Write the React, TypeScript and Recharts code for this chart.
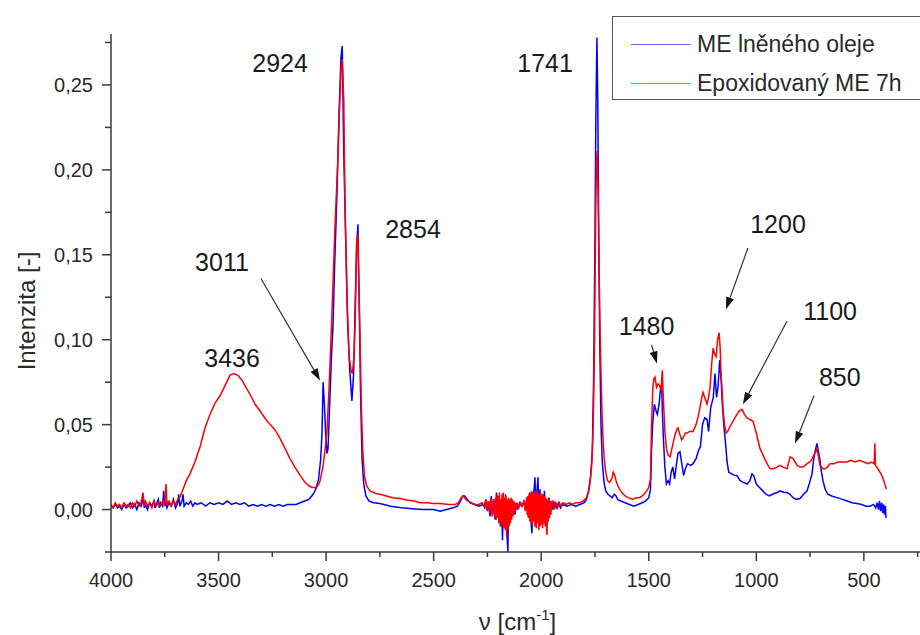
import React from 'react';
import { LineChart, Line, XAxis, YAxis, ReferenceLine, ReferenceDot, Legend } from 'recharts';

const FONT = '"Liberation Sans", Arial, Helvetica, sans-serif';

const seriesNames = ['ME lněného oleje', 'Epoxidovaný ME 7h'];
const seriesColors = ['#0000ff', '#ff0000'];

// [wavenumber cm-1, intensity]
const blueSpectrum: [number, number][] = [
  [4000, 0.002], [3990, 0.001], [3980, 0.003], [3970, 0.001], [3960, 0.002], [3950, 0.0], [3940, 0.003],
  [3930, 0.001], [3920, 0.002], [3910, 0.004], [3900, 0.001], [3890, 0.003], [3880, 0.0], [3870, 0.004],
  [3860, 0.002], [3850, 0.006], [3845, 0.001], [3840, 0.003], [3830, 0.0], [3820, 0.004], [3810, 0.002],
  [3800, 0.005], [3795, 0.001], [3790, 0.003], [3780, 0.006], [3775, 0.001], [3770, 0.004], [3760, 0.002],
  [3755, 0.011], [3750, 0.002], [3745, 0.005], [3740, 0.001], [3730, 0.004], [3720, 0.002], [3710, 0.006],
  [3700, 0.001], [3690, 0.004], [3685, 0.009], [3680, 0.002], [3670, 0.005], [3665, 0.009], [3660, 0.002],
  [3650, 0.004], [3640, 0.003], [3630, 0.005], [3620, 0.002], [3610, 0.004], [3600, 0.003], [3580, 0.004],
  [3560, 0.002], [3540, 0.004], [3520, 0.003], [3500, 0.004], [3480, 0.003], [3460, 0.005], [3440, 0.003],
  [3420, 0.004], [3400, 0.003], [3380, 0.004], [3360, 0.002], [3340, 0.003], [3320, 0.002], [3300, 0.003],
  [3280, 0.002], [3260, 0.003], [3240, 0.002], [3220, 0.003], [3200, 0.002], [3180, 0.003], [3160, 0.003],
  [3140, 0.003], [3120, 0.004], [3100, 0.005], [3080, 0.006], [3060, 0.009], [3045, 0.013], [3035, 0.018],
  [3025, 0.03], [3019, 0.045], [3014, 0.075], [3008, 0.062], [3002, 0.045], [2996, 0.033], [2991, 0.036],
  [2984, 0.06], [2975, 0.09], [2968, 0.108], [2960, 0.145], [2950, 0.184], [2940, 0.233], [2931, 0.266],
  [2925, 0.273], [2918, 0.21], [2910, 0.165], [2900, 0.11], [2890, 0.082], [2880, 0.064], [2872, 0.08],
  [2865, 0.12], [2858, 0.155], [2852, 0.168], [2846, 0.12], [2840, 0.07], [2833, 0.03], [2825, 0.015],
  [2815, 0.008], [2800, 0.005], [2780, 0.004], [2750, 0.0035], [2700, 0.002], [2650, 0.001], [2600, 0.0005],
  [2550, 0.0], [2500, 0.0], [2470, -0.001], [2440, 0.0], [2410, 0.001], [2390, 0.002], [2375, 0.005],
  [2365, 0.008], [2355, 0.008], [2345, 0.006], [2330, 0.004], [2310, 0.003], [2290, 0.002], [2270, 0.003],
  [2262, 0.001], [2256, 0.006], [2250, -0.001], [2244, 0.005], [2238, -0.004], [2232, 0.008], [2226, -0.003],
  [2220, 0.006], [2214, -0.006], [2208, 0.01], [2202, -0.005], [2196, 0.007], [2190, -0.01], [2184, 0.004],
  [2180, -0.018], [2176, 0.006], [2170, -0.008], [2166, 0.009], [2160, -0.012], [2155, -0.025], [2152, 0.002],
  [2146, -0.008], [2140, 0.006], [2134, -0.004], [2128, 0.005], [2122, -0.003], [2116, 0.004], [2110, 0.0],
  [2100, 0.004], [2090, 0.002], [2080, 0.005], [2072, 0.001], [2066, 0.007], [2060, -0.004], [2054, 0.01],
  [2048, -0.006], [2043, -0.014], [2038, 0.008], [2033, 0.012], [2029, 0.019], [2025, 0.0], [2020, 0.01],
  [2015, 0.019], [2011, -0.004], [2006, 0.012], [2000, -0.008], [1995, 0.009], [1990, -0.006], [1985, 0.011],
  [1980, -0.009], [1975, 0.006], [1970, -0.004], [1964, 0.007], [1958, -0.003], [1952, 0.005], [1946, 0.0],
  [1940, 0.004], [1930, 0.001], [1920, 0.004], [1910, 0.001], [1900, 0.003], [1880, 0.002], [1860, 0.003],
  [1840, 0.002], [1820, 0.003], [1800, 0.004], [1790, 0.006], [1780, 0.011], [1770, 0.02], [1762, 0.035],
  [1756, 0.08], [1750, 0.16], [1746, 0.23], [1741, 0.278], [1737, 0.24], [1733, 0.17], [1728, 0.1],
  [1722, 0.05], [1716, 0.028], [1708, 0.016], [1700, 0.011], [1690, 0.009], [1680, 0.008], [1670, 0.007],
  [1660, 0.009], [1652, 0.008], [1645, 0.006], [1630, 0.005], [1610, 0.004], [1590, 0.003], [1570, 0.002],
  [1550, 0.003], [1530, 0.004], [1515, 0.005], [1500, 0.007], [1492, 0.012], [1487, 0.035], [1482, 0.05],
  [1474, 0.062], [1466, 0.058], [1460, 0.056], [1452, 0.062], [1446, 0.07], [1440, 0.074], [1436, 0.055],
  [1432, 0.042], [1425, 0.025], [1418, 0.015], [1410, 0.017], [1403, 0.015], [1396, 0.022], [1388, 0.025],
  [1380, 0.018], [1372, 0.026], [1364, 0.033], [1355, 0.034], [1345, 0.026], [1338, 0.02], [1330, 0.024],
  [1320, 0.027], [1305, 0.026], [1294, 0.027], [1280, 0.03], [1268, 0.035], [1260, 0.037], [1250, 0.05],
  [1240, 0.054], [1229, 0.053], [1222, 0.046], [1212, 0.06], [1200, 0.066], [1192, 0.08], [1185, 0.066],
  [1178, 0.072], [1170, 0.088], [1163, 0.075], [1158, 0.062], [1150, 0.048], [1143, 0.039], [1136, 0.028],
  [1128, 0.022], [1115, 0.021], [1100, 0.02], [1090, 0.02], [1075, 0.017], [1060, 0.016], [1043, 0.015],
  [1030, 0.017], [1020, 0.021], [1012, 0.02], [1000, 0.015], [985, 0.013], [970, 0.011], [955, 0.009],
  [940, 0.008], [925, 0.009], [904, 0.01], [890, 0.011], [870, 0.01], [857, 0.01], [843, 0.009], [829, 0.007],
  [815, 0.006], [797, 0.0065], [780, 0.009], [764, 0.011], [752, 0.016], [741, 0.021], [733, 0.03],
  [727, 0.034], [718, 0.039], [711, 0.034], [704, 0.029], [697, 0.022], [690, 0.017], [680, 0.012],
  [667, 0.009], [650, 0.008], [625, 0.007], [600, 0.006], [578, 0.005], [555, 0.004], [532, 0.0035],
  [510, 0.003], [490, 0.002], [471, 0.002], [455, 0.003], [445, 0.001], [438, 0.004], [432, 0.0],
  [427, 0.005], [422, -0.001], [417, 0.004], [412, -0.002], [408, 0.003], [404, -0.003], [400, 0.002],
  [397, -0.005],
];

const redSpectrum: [number, number][] = [
  [4000, 0.003], [3990, 0.001], [3980, 0.004], [3970, 0.002], [3960, 0.003], [3950, 0.001], [3940, 0.004],
  [3930, 0.002], [3920, 0.003], [3910, 0.001], [3900, 0.004], [3890, 0.002], [3880, 0.005], [3870, 0.002],
  [3860, 0.004], [3851, 0.01], [3846, 0.002], [3840, 0.005], [3830, 0.002], [3820, 0.004], [3810, 0.001],
  [3800, 0.005], [3790, 0.002], [3780, 0.004], [3770, 0.002], [3760, 0.005], [3750, 0.003], [3744, 0.015],
  [3740, 0.003], [3730, 0.005], [3720, 0.002], [3710, 0.005], [3700, 0.003], [3690, 0.006], [3680, 0.007],
  [3665, 0.012], [3650, 0.017], [3633, 0.021], [3610, 0.028], [3586, 0.037], [3563, 0.048], [3540, 0.056],
  [3515, 0.063], [3493, 0.067], [3470, 0.073], [3447, 0.079], [3430, 0.08], [3410, 0.079], [3390, 0.076],
  [3377, 0.073], [3350, 0.067], [3330, 0.062], [3307, 0.058], [3280, 0.053], [3260, 0.05], [3238, 0.047],
  [3215, 0.042], [3191, 0.036], [3168, 0.03], [3145, 0.025], [3120, 0.02], [3098, 0.016], [3080, 0.014],
  [3066, 0.013], [3050, 0.013], [3038, 0.014], [3028, 0.017], [3015, 0.025], [3005, 0.035], [2996, 0.046],
  [2985, 0.075], [2973, 0.115], [2959, 0.166], [2945, 0.207], [2935, 0.245], [2929, 0.262], [2925, 0.265],
  [2918, 0.242], [2912, 0.18], [2903, 0.125], [2893, 0.09], [2884, 0.082], [2878, 0.08], [2870, 0.09],
  [2864, 0.115], [2858, 0.158], [2853, 0.162], [2847, 0.13], [2842, 0.1], [2836, 0.06], [2830, 0.036],
  [2822, 0.02], [2812, 0.014], [2796, 0.011], [2770, 0.0095], [2749, 0.009], [2720, 0.008], [2690, 0.007],
  [2656, 0.0065], [2620, 0.0055], [2590, 0.005], [2563, 0.004], [2530, 0.004], [2500, 0.0035], [2470, 0.0035],
  [2430, 0.003], [2400, 0.003], [2385, 0.004], [2372, 0.007], [2362, 0.008], [2350, 0.006], [2340, 0.005],
  [2325, 0.004], [2308, 0.003], [2290, 0.003], [2275, 0.004], [2265, 0.002], [2258, 0.006], [2252, 0.0],
  [2246, 0.005], [2240, -0.002], [2234, 0.007], [2228, -0.004], [2222, 0.006], [2218, -0.003],
  [2215, -0.004], [2212, 0.007], [2209, -0.006], [2206, 0.009], [2203, -0.005], [2200, 0.008], [2197, -0.008],
  [2194, 0.01], [2191, -0.007], [2188, 0.006], [2185, -0.01], [2182, 0.009], [2179, -0.009], [2176, 0.01],
  [2173, -0.011], [2170, 0.007], [2167, -0.012], [2164, 0.008], [2161, -0.016], [2158, 0.006], [2155, -0.012],
  [2152, 0.007], [2149, -0.01], [2146, 0.006], [2143, -0.008], [2140, 0.007], [2137, -0.006], [2134, 0.006],
  [2131, -0.004], [2128, 0.005], [2125, -0.002], [2122, 0.004], [2119, -0.001], [2112, 0.004], [2104, 0.001],
  [2096, 0.004], [2088, 0.002], [2080, 0.005], [2074, -0.001], [2068, 0.007], [2065, -0.003], [2062, 0.008],
  [2059, -0.005], [2056, 0.009], [2053, -0.007], [2050, 0.01], [2047, -0.008], [2044, 0.011], [2041, -0.009],
  [2038, 0.01], [2035, -0.007], [2032, 0.011], [2029, -0.01], [2026, 0.009], [2023, -0.011], [2020, 0.011],
  [2017, -0.008], [2014, 0.01], [2011, -0.012], [2008, 0.009], [2005, -0.01], [2002, 0.01], [1999, -0.009],
  [1996, 0.008], [1993, -0.011], [1990, 0.009], [1987, -0.008], [1984, 0.008], [1981, -0.01], [1978, 0.007],
  [1975, -0.012], [1973, -0.015], [1970, 0.006], [1967, -0.007], [1964, 0.006], [1961, -0.005], [1958, 0.005],
  [1955, -0.003], [1952, 0.004], [1946, 0.005], [1940, 0.0],
  [1932, 0.004], [1924, 0.001], [1916, 0.004], [1908, 0.002], [1900, 0.004], [1885, 0.003], [1870, 0.004],
  [1855, 0.003], [1840, 0.004], [1820, 0.004], [1805, 0.005], [1790, 0.007], [1780, 0.01], [1772, 0.017],
  [1765, 0.027], [1758, 0.05], [1752, 0.1], [1747, 0.17], [1743, 0.205], [1740, 0.211], [1736, 0.19],
  [1731, 0.14], [1727, 0.11], [1722, 0.08], [1717, 0.056], [1712, 0.04], [1707, 0.03], [1700, 0.022],
  [1692, 0.017], [1682, 0.016], [1672, 0.018], [1665, 0.022], [1658, 0.02], [1650, 0.016], [1640, 0.013],
  [1625, 0.01], [1610, 0.008], [1595, 0.007], [1575, 0.006], [1560, 0.007], [1545, 0.007], [1530, 0.008],
  [1515, 0.01], [1500, 0.013], [1492, 0.018], [1487, 0.05], [1481, 0.072], [1476, 0.077], [1471, 0.078],
  [1464, 0.072], [1457, 0.074], [1450, 0.073], [1443, 0.07], [1437, 0.082], [1432, 0.065], [1425, 0.046],
  [1418, 0.036], [1410, 0.032], [1401, 0.031], [1394, 0.035], [1387, 0.039], [1378, 0.044], [1370, 0.047],
  [1364, 0.048], [1355, 0.044], [1347, 0.041], [1341, 0.042], [1330, 0.045], [1322, 0.045], [1310, 0.046],
  [1294, 0.046], [1280, 0.05], [1270, 0.055], [1262, 0.06], [1255, 0.065], [1248, 0.069], [1240, 0.066],
  [1229, 0.062], [1222, 0.066], [1215, 0.072], [1208, 0.085], [1201, 0.095], [1195, 0.092], [1187, 0.09],
  [1180, 0.1], [1173, 0.104], [1168, 0.095], [1164, 0.08], [1159, 0.07], [1155, 0.06], [1148, 0.05],
  [1140, 0.045], [1133, 0.046], [1122, 0.049], [1108, 0.052], [1095, 0.055], [1080, 0.058], [1066, 0.059],
  [1055, 0.056], [1043, 0.054], [1030, 0.053], [1015, 0.052], [1000, 0.045], [983, 0.036], [965, 0.031],
  [950, 0.027], [936, 0.024], [920, 0.024], [904, 0.025], [890, 0.026], [875, 0.025], [857, 0.024],
  [843, 0.031], [829, 0.03], [810, 0.026], [797, 0.025], [783, 0.025], [764, 0.027], [750, 0.028],
  [740, 0.03], [733, 0.032], [727, 0.033], [718, 0.036], [711, 0.031], [704, 0.026], [690, 0.024],
  [681, 0.024], [670, 0.025], [657, 0.027], [640, 0.027], [620, 0.028], [600, 0.028], [580, 0.028],
  [560, 0.029], [540, 0.028], [520, 0.029], [500, 0.028], [480, 0.027], [465, 0.028], [452, 0.027],
  [449, 0.039], [446, 0.026], [440, 0.025], [430, 0.023], [420, 0.021], [410, 0.018], [400, 0.014],
  [395, 0.012],
];

const xTicks = [4000, 3750, 3500, 3250, 3000, 2750, 2500, 2250, 2000, 1750, 1500, 1250, 1000, 750, 500, 250];
const yTicks = [-0.025, 0, 0.025, 0.05, 0.075, 0.1, 0.125, 0.15, 0.175, 0.2, 0.225, 0.25, 0.275];

const peakLabels = [
  { text: '2924', wn: 3214, a: 0.263 },
  { text: '1741', wn: 1982, a: 0.263 },
  { text: '2854', wn: 2596, a: 0.165 },
  { text: '3011', wn: 3484, a: 0.146 },
  { text: '3436', wn: 3437, a: 0.089 },
  { text: '1480', wn: 1510, a: 0.108 },
  { text: '1200', wn: 899, a: 0.168 },
  { text: '1100', wn: 657, a: 0.117 },
  { text: '850', wn: 612, a: 0.078 },
];

const arrows = [
  { x1: 3303, y1: 0.136, x2: 3028, y2: 0.076 },
  { x1: 1039, y1: 0.154, x2: 1141, y2: 0.118 },
  { x1: 857, y1: 0.111, x2: 1062, y2: 0.062 },
  { x1: 732, y1: 0.067, x2: 820, y2: 0.039 },
  { x1: 1487, y1: 0.097, x2: 1462, y2: 0.086 },
];

const toRows = (s: [number, number][]) => s.map(([wn, a]) => ({ wn, a }));
const blueData = toRows(blueSpectrum);
const redData = toRows(redSpectrum);

const AXIS = '#3a3a3a';
const TXT = '#2a2a2a';

const isMajorX = (v: number) => v % 500 === 0;
const isMajorY = (v: number) => Math.abs(v / 0.05 - Math.round(v / 0.05)) < 1e-6;

const XTick = (props: any) => {
  const { x, y, payload } = props;
  const major = isMajorX(payload.value);
  return (
    <g>
      <line x1={x} y1={y} x2={x} y2={y + (major ? 9 : 5)} stroke={AXIS} strokeWidth={1.5} />
      {major && (
        <text x={x} y={y + 35} textAnchor="middle" fontSize={20} fontFamily={FONT} fill={TXT}>
          {payload.value}
        </text>
      )}
    </g>
  );
};

const YTick = (props: any) => {
  const { x, y, payload } = props;
  const major = isMajorY(payload.value);
  return (
    <g>
      <line x1={x} y1={y} x2={x - (major ? 9 : 6)} y2={y} stroke={AXIS} strokeWidth={1.5} />
      {major && (
        <text x={x - 18} y={y} textAnchor="end" dominantBaseline="central" fontSize={20} fontFamily={FONT} fill={TXT}>
          {payload.value.toFixed(2).replace('.', ',')}
        </text>
      )}
    </g>
  );
};

const YTitle = (props: any) => {
  const vb = props.viewBox || { x: 0, y: 34, width: 111, height: 518 };
  const cx = vb.x + 26;
  const cy = vb.y + vb.height / 2 + 18;
  return (
    <text x={cx} y={cy} transform={`rotate(-90 ${cx} ${cy})`} textAnchor="middle" dominantBaseline="central"
      fontSize={24} fontFamily={FONT} fill={TXT}>
      Intenzita [-]
    </text>
  );
};

const XTitle = (props: any) => {
  const vb = props.viewBox || { x: 111, y: 552, width: 809, height: 83 };
  const cx = vb.x + vb.width / 2 + 2;
  const by = vb.y + 78;
  return (
    <text x={cx} y={by} textAnchor="middle" fontSize={24} fontFamily={FONT} fill={TXT}>
      ν [cm<tspan dy={-10} fontSize={15}>-1</tspan><tspan dy={10}>]</tspan>
    </text>
  );
};

const ArrowShape = (props: any) => {
  const { x1, y1, x2, y2 } = props;
  if ([x1, y1, x2, y2].some((v) => typeof v !== 'number' || isNaN(v))) return null;
  const ang = Math.atan2(y2 - y1, x2 - x1);
  const L = 12, W = 4;
  const bx = x2 - L * Math.cos(ang);
  const by = y2 - L * Math.sin(ang);
  const px = -Math.sin(ang) * W;
  const py = Math.cos(ang) * W;
  return (
    <g>
      <line x1={x1} y1={y1} x2={bx} y2={by} stroke="#333" strokeWidth={1.2} />
      <polygon points={`${x2},${y2} ${bx + px},${by + py} ${bx - px},${by - py}`} fill="#111" />
    </g>
  );
};

const LegendBox = () => (
  <div
    style={{
      width: 330, height: 84, border: '1.5px solid #555', background: '#fff', boxSizing: 'border-box',
      fontFamily: FONT, fontSize: 23, color: TXT, position: 'relative',
    }}
  >
    {seriesNames.map((n, i) => (
      <div key={n} style={{ position: 'absolute', left: 18, top: i === 0 ? 12 : 51, height: 30, display: 'flex', alignItems: 'center' }}>
        <div style={{ width: 60, height: 0, borderTop: `1.5px solid ${seriesColors[i]}`, opacity: 0.6 }} />
        <span style={{ marginLeft: 6, whiteSpace: 'nowrap' }}>{n}</span>
      </div>
    ))}
  </div>
);

export default function App() {
  return (
    <div style={{ position: 'absolute', left: 0, top: 0, width: 920, height: 635, overflow: 'hidden', background: '#fff' }}>
      <LineChart width={920} height={635} margin={{ top: 34, right: 0, bottom: 0, left: 0 }}>
        <XAxis
          dataKey="wn"
          type="number"
          domain={[239, 4000]}
          reversed
          allowDataOverflow
          ticks={xTicks}
          interval={0}
          height={83}
          tickSize={0}
          tickMargin={0}
          tickLine={false}
          axisLine={{ stroke: AXIS, strokeWidth: 1.5 }}
          tick={<XTick />}
          label={XTitle}
        />
        <YAxis
          type="number"
          domain={[-0.025, 0.28]}
          allowDataOverflow
          ticks={yTicks}
          interval={0}
          width={111}
          tickSize={0}
          tickMargin={0}
          tickLine={false}
          axisLine={{ stroke: AXIS, strokeWidth: 1.5 }}
          tick={<YTick />}
          label={YTitle}
        />
        <Legend
          layout="horizontal"
          verticalAlign="middle"
          align="center"
          content={() => <LegendBox />}
          wrapperStyle={{ position: 'absolute', left: 612, top: 16, width: 330, height: 84 }}
        />
        <Line data={blueData} dataKey="a" name={seriesNames[0]} stroke={seriesColors[0]} strokeWidth={1.5}
          dot={false} type="linear" isAnimationActive={false} />
        <Line data={redData} dataKey="a" name={seriesNames[1]} stroke={seriesColors[1]} strokeWidth={1.5}
          dot={false} type="linear" isAnimationActive={false} />
        {arrows.map((ar, i) => (
          <ReferenceLine key={`ar${i}`} segment={[{ x: ar.x1, y: ar.y1 }, { x: ar.x2, y: ar.y2 }]}
            ifOverflow="visible" shape={ArrowShape} />
        ))}
        {peakLabels.map((p) => (
          <ReferenceDot key={p.text} x={p.wn} y={p.a} r={0} ifOverflow="visible"
            shape={(sp: any) => (
              <text x={sp.cx} y={sp.cy} textAnchor="middle" dominantBaseline="central" fontSize={25}
                fontFamily={FONT} fill="#1a1a1a">
                {p.text}
              </text>
            )}
          />
        ))}
      </LineChart>
    </div>
  );
}
